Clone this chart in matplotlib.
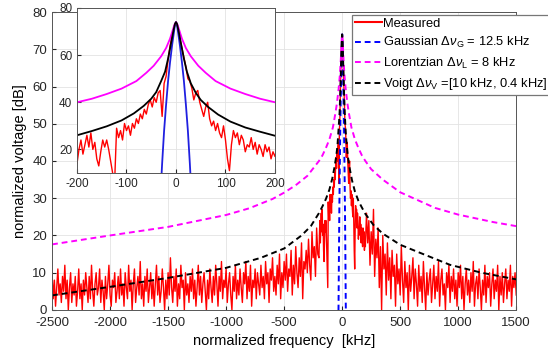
import matplotlib.pyplot as plt
import numpy as np

plt.rcParams['font.family'] = ['Liberation Sans', 'DejaVu Sans']
plt.rcParams['mathtext.fontset'] = 'custom'
plt.rcParams['mathtext.rm'] = 'Liberation Sans'
plt.rcParams['mathtext.it'] = 'Liberation Sans:italic'
plt.rcParams['axes.unicode_minus'] = False

# measured spectrum [dB]
# outer parts sampled every 10 kHz, centre part every 4 kHz
f_left = np.arange(-2500, -200, 10)
meas_left = [10, 3, 8, 1, 6, 11, 4, 7, 2, 9, 5, 12, 3, 8, 0, 6, 10, 2, 7, 4,
             9, 1, 5, 11, 3, 7, 0, 8, 4, 10, 6, 2, 9, 3, 12, 5, 1, 7, 10, 4,
             6, 11, 2, 8, 5, 0, 9, 3, 7, 12, 4, 1, 8, 6, 10, 2, 5, 9, 3, 11,
             4, 7, 1, 10, 6, 3, 12, 5, 8, 0, 7, 11, 2, 6, 9, 4, 13, 3, 7, 1,
             9, 5, 11, 2, 6, 10, 3, 8, 1, 7, 12, 4, 9, 2, 5, 11, 6, 0, 8, 3,
             10, 4, 14, 6, 2, 9, 5, 11, 1, 7, 3, 12, 6, 8, 0, 10, 4, 7, 2, 9,
             5, 11, 3, 8, 1, 6, 12, 4, 9, 2, 7, 10, 5, 0, 8, 3, 11, 6, 2, 9,
             4, 12, 7, 1, 9, 5, 13, 3, 8, 6, 11, 2, 7, 10, 4, 0, 9, 5, 12, 3,
             8, 4, 11, 6, 2, 10, 7, 13, 3, 9, 5, 12, 1, 8, 6, 11, 3, 10, 7, 4,
             12, 6, 9, 3, 13, 7, 10, 2, 11, 8, 14, 5, 9, 4, 12, 7, 15, 3, 10, 6,
             13, 8, 15, 5, 11, 9, 16, 4, 12, 7, 17, 10, 6, 14, 9, 18, 3, 13, 11, 16,
             10, 19, 12, 8, 21, 14, 17, 9, 22, 15]
f_mid = np.arange(-200, 201, 4)
meas_mid = [14, 20, 24, 18, 22, 26, 21, 27, 20, 23,
            16, 13, 19, 24, 21, 24, 20, 15, 10, 6,
            29, 25, 28, 24, 31, 28, 30, 26, 31, 29,
            33, 31, 35, 33, 37, 35, 39, 41, 38, 42,
            40, 44, 45, 34, 48, 51, 58, 64, 68, 72,
            74, 72, 67, 63, 59, 55, 50, 49, 46, 41,
            44, 45, 40, 37, 34, 38, 40, 33, 30, 32,
            28, 31, 27, 25, 30, 24, 16, 11, 22, 28,
            25, 27, 22, 26, 24, 19, 22, 21, 25, 20,
            23, 18, 22, 20, 17, 22, 19, 21, 16, 19,
            17]
f_right = np.arange(210, 1501, 10)
meas_right = [26, 18, 24, 12, 21, 15, 27, 9, 19, 14, 22, 6, 17, 0, 20, 11, 15, 4, 18, 8,
              14, 3, 16, 9, 12, 1, 15, 7, 11, 4, 17, 8, 2, 13, 6, 10, 0, 12, 5, 9,
              14, 3, 11, 7, 1, 12, 5, 9, 2, 13, 6, 0, 10, 4, 8, 11, 2, 7, 12, 3,
              9, 5, 13, 1, 8, 11, 4, 7, 0, 10, 6, 12, 2, 9, 5, 11, 3, 8, 1, 10,
              6, 12, 3, 9, 0, 7, 11, 4, 8, 2, 10, 5, 13, 1, 7, 9, 3, 11, 6, 0,
              8, 4, 12, 2, 9, 6, 10, 1, 7, 11, 3, 8, 5, 12, 0, 9, 4, 10, 2, 7,
              11, 3, 8, 5, 12, 1, 9, 6, 10, 4]

# fitted line shapes [dB]
gau_f = [-34, -31, -28, -24, -20, -16, -12, -8, -4, -2, 0, 2, 4, 8, 12, 16, 20, 24, 28, 31, 34]
gau_v = [-8, 2, 14, 28, 39, 49, 57, 64, 70, 73, 74, 73, 70, 64, 57, 49, 39, 28, 14, 2, -8]

lor_f = [-2500, -2000, -1500, -1000, -800, -600, -500, -400, -300, -250,
         -200, -170, -140, -110, -80, -60, -45, -30, -20, -12, -6, -3,
         0, 3, 6, 12, 20, 30, 45, 60, 80, 110, 140, 170, 200,
         250, 350, 500, 800, 1000, 1300, 1500]
lor_v = [17.6, 20.0, 22.3, 25.5, 27.3, 29.8, 31.5, 33.5, 36.0, 38.0,
         40.0, 41.5, 43.5, 45.8, 49.0, 52.5, 55.5, 59.5, 63.0, 67.0, 71.0, 73.0,
         74.0, 73.0, 71.0, 67.0, 63.0, 59.5, 55.5, 52.5, 49.0, 45.8, 43.5, 41.5, 40.0,
         37.8, 35.0, 31.6, 27.4, 25.6, 23.6, 22.5]

voi_f = [-2500, -2000, -1500, -1000, -700, -500, -350, -270, -200, -170,
         -140, -110, -85, -65, -50, -40, -30, -22, -16, -10,
         -5, -2, 0, 2, 5, 10, 16, 22, 30, 40,
         50, 65, 85, 110, 140, 170, 200, 270, 350, 500,
         650, 930, 1200, 1500]
voi_v = [3.9, 6.2, 8.6, 11.3, 14.0, 16.5, 20.0, 22.5, 26.0, 27.8,
         29.8, 32.3, 35.3, 38.5, 41.5, 44.3, 49.0, 53.0, 58.5, 65.0,
         70.5, 73.3, 74.0, 73.3, 70.5, 65.0, 58.5, 53.0, 48.0, 44.0,
         41.0, 38.0, 34.8, 31.8, 29.3, 27.5, 25.8, 22.8, 20.5, 17.5,
         15.6, 12.1, 10.0, 8.2]

freq = np.concatenate([f_left, f_mid, f_right])
meas = np.concatenate([meas_left, meas_mid, meas_right])

fig = plt.figure(figsize=(5.48, 3.55), dpi=100)
ax = fig.add_axes([0.095, 0.127, 0.847, 0.839])

dash = (0, (3, 2))
ax.plot(freq, meas, color='#ff0000', lw=1.0, label='Measured')
ax.plot(gau_f, gau_v, color='#0000ff', lw=1.4, ls=dash, label=r'Gaussian $\Delta\nu_{\mathrm{G}}$ = 12.5 kHz')
ax.plot(lor_f, lor_v, color='#ff00ff', lw=1.4, ls=dash, label=r'Lorentzian $\Delta\nu_{\mathrm{L}}$ = 8 kHz')
ax.plot(voi_f, voi_v, color='black', lw=1.4, ls=dash, label=r'Voigt $\Delta\nu_{\mathrm{V}}$ =[10 kHz, 0.4 kHz]')

ax.set_xlim(-2500, 1500)
ax.set_ylim(0, 80)
ax.set_xticks(np.arange(-2500, 1501, 500))
ax.set_yticks(np.arange(0, 81, 10))
ax.grid(True, color='#e3e3e3', lw=0.6)
ax.tick_params(direction='in', length=3, labelsize=9.5, colors='#262626')
ax.tick_params(axis='x', pad=5)
for s in ax.spines.values():
    s.set_color('#555555')
    s.set_linewidth(0.7)
ax.set_xlabel('normalized frequency  [kHz]', fontsize=10.5, labelpad=4)
ax.set_ylabel('normalized voltage [dB]', fontsize=10.5, labelpad=4)

leg = ax.legend(loc='upper left', bbox_to_anchor=(352 / 548, 1 - 15 / 355),
                bbox_transform=fig.transFigure, borderaxespad=0, fontsize=9.3,
                handlelength=2.1, handletextpad=0.1, borderpad=0.2,
                labelspacing=0.42, fancybox=False, framealpha=1)
leg.get_frame().set_edgecolor('#777777')
leg.get_frame().set_linewidth(0.9)
leg.legend_handles[0].set_linewidth(1.5)

# zoomed inset around the line centre
ins = fig.add_axes([0.1405, 0.5127, 0.3613, 0.4648])
ins.plot(freq, meas, color='#ff0000', lw=1.0)
ins.plot(gau_f, gau_v, color='#2020e0', lw=1.3)
ins.plot(lor_f, lor_v, color='#ff00ff', lw=1.3)
ins.plot(voi_f, voi_v, color='black', lw=1.3)
ins.set_xlim(-200, 200)
ins.set_ylim(10, 80)
ins.set_xticks([-200, -100, 0, 100, 200])
ins.set_yticks([20, 40, 60, 80])
ins.grid(True, color='#e3e3e3', lw=0.6)
ins.tick_params(direction='in', length=3, labelsize=8.5, colors='#262626')
for s in ins.spines.values():
    s.set_color('#555555')
    s.set_linewidth(0.7)

fig.savefig('out.png', dpi=100)
